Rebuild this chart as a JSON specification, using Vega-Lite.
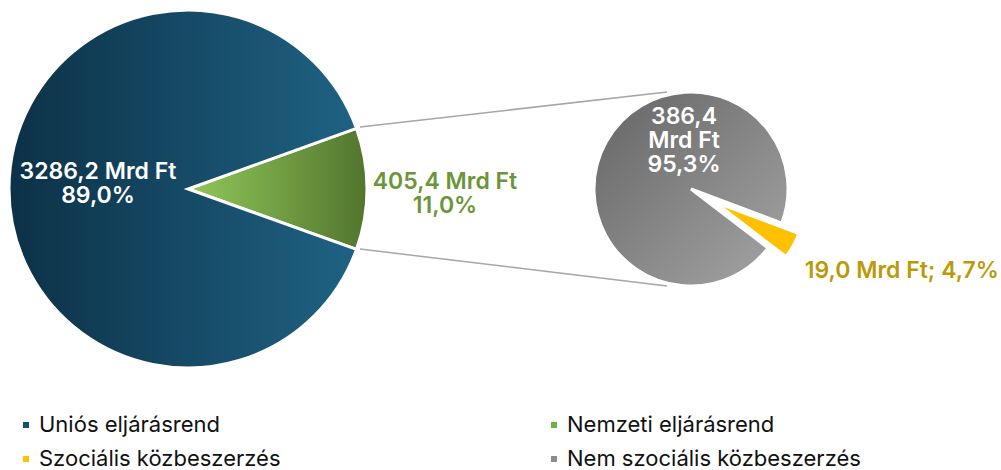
{
  "$schema": "https://vega.github.io/schema/vega-lite/v6.json",
  "width": 1001,
  "height": 378,
  "autosize": {"type": "pad"},
  "padding": 0,
  "background": "white",
  "config": {"view": {"stroke": null}, "font": "Inter"},
  "datasets": {
    "fo": [
      {"kor": "fő", "kat": "Nemzeti eljárásrend", "ertek": 405.4, "cimke": "405,4 Mrd Ft\n11,0%"},
      {"kor": "fő", "kat": "Uniós eljárásrend", "ertek": 3286.2, "cimke": "3286,2 Mrd Ft\n89,0%"}
    ],
    "reszlet": [
      {"kor": "részlet", "kat": "Szociális közbeszerzés", "ertek": 19.0, "cimke": "19,0 Mrd Ft; 4,7%"},
      {"kor": "részlet", "kat": "Nem szociális közbeszerzés", "ertek": 386.4, "cimke": "386,4\nMrd Ft\n95,3%"}
    ],
    "kategoriak": [
      {"kor": "fő", "kat": "Uniós eljárásrend"},
      {"kor": "fő", "kat": "Nemzeti eljárásrend"},
      {"kor": "részlet", "kat": "Szociális közbeszerzés"},
      {"kor": "részlet", "kat": "Nem szociális közbeszerzés"}
    ]
  },
  "layer": [
    {
      "data": {"name": "kategoriak"},
      "mark": {"type": "square", "opacity": 0, "size": 10},
      "encoding": {
        "x": {"field": "kor", "type": "nominal", "scale": {"type": "point", "domain": ["fő", "részlet"], "padding": 0.49503, "align": 0.37751}, "axis": null},
        "color": {
          "field": "kat", "type": "nominal",
          "scale": {"domain": ["Uniós eljárásrend", "Nemzeti eljárásrend", "Szociális közbeszerzés", "Nem szociális közbeszerzés"],
                    "range": ["#174f6c", "#70b044", "#ffc000", "#8c8c8c"]},
          "legend": {
            "title": null, "orient": "none", "legendX": 15, "legendY": 414,
            "columns": 2, "direction": "horizontal",
            "symbolType": "square", "symbolSize": 36, "symbolStrokeWidth": 0,
            "labelFont": "Inter", "labelFontSize": 22, "labelColor": "#111111",
            "labelOffset": 2, "rowPadding": 12, "columnPadding": 262, "padding": 0,
            "labelLimit": 400
          }
        }
      }
    },
    {
      "data": {"name": "fo"},
      "transform": [{"filter": "datum.kat === 'Nemzeti eljárásrend'"}],
      "mark": {"type": "rule", "color": "#a6a6a6", "strokeWidth": 1.5, "xOffset": 172, "x2Offset": -24, "yOffset": -62, "y2Offset": -97},
      "encoding": {
        "x": {"field": "kor", "type": "nominal", "scale": {"type": "point", "domain": ["fő", "részlet"], "padding": 0.49503, "align": 0.37751}, "axis": null},
        "x2": {"datum": "részlet"},
        "y": {"datum": 0, "type": "quantitative", "scale": {"domain": [-1, 1]}, "axis": null},
        "y2": {"datum": 0}
      }
    },
    {
      "data": {"name": "fo"},
      "transform": [{"filter": "datum.kat === 'Nemzeti eljárásrend'"}],
      "mark": {"type": "rule", "color": "#a6a6a6", "strokeWidth": 1.5, "xOffset": 172, "x2Offset": -24, "yOffset": 60, "y2Offset": 97},
      "encoding": {
        "x": {"field": "kor", "type": "nominal", "scale": {"type": "point", "domain": ["fő", "részlet"], "padding": 0.49503, "align": 0.37751}, "axis": null},
        "x2": {"datum": "részlet"},
        "y": {"datum": 0, "type": "quantitative", "scale": {"domain": [-1, 1]}, "axis": null},
        "y2": {"datum": 0}
      }
    },
    {
      "data": {"name": "fo"},
      "encoding": {
        "x": {"field": "kor", "type": "nominal", "scale": {"type": "point", "domain": ["fő", "részlet"], "padding": 0.49503, "align": 0.37751}, "axis": null},
        "theta": {"field": "ertek", "type": "quantitative", "stack": true, "scale": {"range": [1.225221, 7.508406]}},
        "order": {"field": "kat", "sort": "ascending"}
      },
      "layer": [
        {
          "mark": {"type": "arc", "outerRadius": 179, "stroke": "white", "strokeWidth": 3},
          "encoding": {
            "fill": {
              "condition": {"test": "datum.kat === 'Uniós eljárásrend'",
                "value": {"gradient": "linear", "x1": 0, "y1": 0, "x2": 1, "y2": 0,
                  "stops": [{"offset": 0, "color": "#0c3147"}, {"offset": 1, "color": "#1f6283"}]}},
              "value": {"gradient": "linear", "x1": 0, "y1": 0, "x2": 1, "y2": 0,
                "stops": [{"offset": 0, "color": "#92c85a"}, {"offset": 1, "color": "#51752d"}]}
            }
          }
        },
        {
          "mark": {"type": "text", "radius": 90, "yOffset": -17, "fontSize": 23, "fontWeight": 600, "lineBreak": "\n", "lineHeight": 24, "align": "center", "baseline": "middle", "fill": "white"},
          "encoding": {
            "text": {"condition": {"test": "datum.kat === 'Uniós eljárásrend'", "field": "cimke"}, "value": ""}
          }
        }
      ]
    },
    {
      "data": {"name": "fo"},
      "transform": [{"filter": "datum.kat === 'Nemzeti eljárásrend'"}],
      "mark": {"type": "text", "xOffset": 257, "yOffset": -7.5, "fontSize": 23, "fontWeight": 600, "lineBreak": "\n", "lineHeight": 24, "align": "center", "baseline": "middle", "fill": "#6b953a"},
      "encoding": {
        "x": {"field": "kor", "type": "nominal", "scale": {"type": "point", "domain": ["fő", "részlet"], "padding": 0.49503, "align": 0.37751}, "axis": null},
        "text": {"field": "cimke", "type": "nominal"}
      }
    },
    {
      "data": {"name": "reszlet"},
      "encoding": {
        "x": {"field": "kor", "type": "nominal", "scale": {"type": "point", "domain": ["fő", "részlet"], "padding": 0.49503, "align": 0.37751}, "axis": null},
        "theta": {"field": "ertek", "type": "quantitative", "stack": true, "scale": {"range": [1.929460, 8.212645]}},
        "order": {"field": "kat", "sort": "descending"}
      },
      "layer": [
        {
          "mark": {"type": "arc", "outerRadius": 97, "stroke": "white", "strokeWidth": 3,
            "fill": {"gradient": "linear", "x1": 0, "y1": 0, "x2": 1, "y2": 1,
              "stops": [{"offset": 0, "color": "#646464"}, {"offset": 1, "color": "#a6a6a6"}]}},
          "encoding": {
            "opacity": {"condition": {"test": "datum.kat === 'Nem szociális közbeszerzés'", "value": 1}, "value": 0}
          }
        },
        {
          "mark": {"type": "arc", "outerRadius": 90, "stroke": "white", "strokeWidth": 3, "fill": "#ffc000", "xOffset": 23.6, "yOffset": 13},
          "encoding": {
            "opacity": {"condition": {"test": "datum.kat === 'Szociális közbeszerzés'", "value": 1}, "value": 0}
          }
        },
        {
          "mark": {"type": "text", "radius": 130, "yOffset": 19, "fontSize": 23, "fontWeight": 600, "align": "left", "baseline": "middle", "fill": "#bb9a08"},
          "encoding": {
            "text": {"condition": {"test": "datum.kat === 'Szociális közbeszerzés'", "field": "cimke"}, "value": ""}
          }
        }
      ]
    },
    {
      "data": {"name": "reszlet"},
      "transform": [{"filter": "datum.kat === 'Nem szociális közbeszerzés'"}],
      "mark": {"type": "text", "xOffset": -7, "yOffset": -72.5, "fontSize": 23, "fontWeight": 600, "lineBreak": "\n", "lineHeight": 24, "align": "center", "baseline": "middle", "fill": "white"},
      "encoding": {
        "x": {"field": "kor", "type": "nominal", "scale": {"type": "point", "domain": ["fő", "részlet"], "padding": 0.49503, "align": 0.37751}, "axis": null},
        "text": {"field": "cimke", "type": "nominal"}
      }
    }
  ],
  "resolve": {"scale": {"theta": "independent"}}
}
